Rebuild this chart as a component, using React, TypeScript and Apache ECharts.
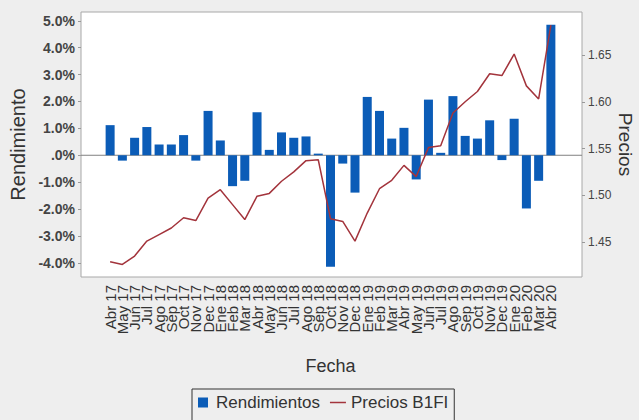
import { useEffect, useRef } from "react";
import * as echarts from "echarts";

const months = [
  "Abr 17", "May 17", "Jun 17", "Jul 17", "Ago 17", "Sep 17", "Oct 17", "Nov 17", "Dec 17",
  "Ene 18", "Feb 18", "Mar 18", "Abr 18", "May 18", "Jun 18", "Jul 18", "Ago 18", "Sep 18",
  "Oct 18", "Nov 18", "Dec 18", "Ene 19", "Feb 19", "Mar 19", "Abr 19", "May 19", "Jun 19",
  "Jul 19", "Ago 19", "Sep 19", "Oct 19", "Nov 19", "Dec 19", "Ene 20", "Feb 20", "Mar 20",
  "Abr 20",
];

// monthly return, %
const rendimientos = [
  1.12, -0.2, 0.65, 1.05, 0.4, 0.4, 0.75, -0.2, 1.65,
  0.55, -1.15, -0.95, 1.6, 0.2, 0.85, 0.65, 0.7, 0.06,
  -4.15, -0.31, -1.39, 2.17, 1.65, 0.62, 1.02, -0.9, 2.07,
  0.09, 2.2, 0.72, 0.62, 1.3, -0.18, 1.36, -1.98, -0.95,
  4.86,
];

// fund price
const precios = [
  1.429, 1.426, 1.435, 1.451, 1.458, 1.465, 1.476, 1.473, 1.497,
  1.506, 1.49, 1.474, 1.499, 1.502, 1.515, 1.525, 1.537, 1.538,
  1.475, 1.472, 1.451, 1.481, 1.507, 1.516, 1.532, 1.52, 1.551,
  1.553, 1.588, 1.6, 1.611, 1.63, 1.628, 1.651, 1.617, 1.603,
  1.682,
];

const leftTicks = { min: -4.53, max: 5.33 };
const rightTicks = { min: 1.4126, max: 1.696 };

const FONT = "'Liberation Sans', Arial, sans-serif";

export default function App() {
  const ref = useRef<HTMLDivElement>(null);

  useEffect(() => {
    if (!ref.current) return;
    const chart = echarts.init(ref.current, null, { renderer: "svg" });

    chart.setOption({
      animation: false,
      backgroundColor: "#eeeeee",
      grid: {
        left: 104,
        right: 82,
        top: 12,
        bottom: 143,
        containLabel: false,
        outerBoundsMode: "none",
      },
      legend: {
        left: 192,
        top: 389,
        padding: [5, 6, 14, 6],
        borderColor: "#333",
        borderWidth: 1,
        itemGap: 10,
        itemWidth: 16,
        itemHeight: 10,
        textStyle: { fontFamily: FONT, fontSize: 17, color: "#333" },
        data: [
          { name: "Rendimientos", icon: "path://M0 0H10V10H0Z" },
          { name: "Precios B1FI", icon: "path://M0 0H16V1.5H0Z" },
        ],
      },
      xAxis: {
        type: "category",
        data: months,
        name: "Fecha",
        nameLocation: "middle",
        nameGap: 80,
        nameTextStyle: { fontFamily: FONT, fontSize: 18, color: "#333" },
        axisLine: { show: false },
        axisTick: { show: false },
        axisLabel: {
          rotate: 90,
          interval: 0,
          margin: 8,
          fontFamily: FONT,
          fontSize: 15,
          color: "#333",
        },
      },
      yAxis: [
        {
          type: "value",
          min: leftTicks.min,
          max: leftTicks.max,
          splitNumber: 10,
          offset: 23,
          name: "Rendimiento",
          nameLocation: "middle",
          nameGap: 52,
          nameTextStyle: { fontFamily: FONT, fontSize: 20, color: "#333" },
          splitLine: { show: false },
          axisLine: { show: false },
          axisTick: { show: true, length: 3, lineStyle: { color: "#999" } },
          axisLabel: {
            showMinLabel: false,
            showMaxLabel: false,
            margin: 6,
            fontFamily: FONT,
            fontSize: 14,
            fontWeight: "bold",
            color: "#444",
            formatter: (v: number) => {
              if (Math.abs(v - Math.round(v)) > 1e-6) return "";
              return Math.round(v) === 0 ? ".0%" : v.toFixed(1) + "%";
            },
          },
        },
        {
          type: "value",
          min: rightTicks.min,
          max: rightTicks.max,
          splitNumber: 6,
          offset: 25,
          name: "Precios",
          nameLocation: "middle",
          nameRotate: -90,
          nameGap: 34,
          nameMoveOverlap: false,
          nameTextStyle: { fontFamily: FONT, fontSize: 19, color: "#333" },
          splitLine: { show: false },
          axisLine: { show: false },
          axisTick: { show: true, length: 3, lineStyle: { color: "#999" } },
          axisLabel: {
            showMinLabel: false,
            showMaxLabel: false,
            margin: 6,
            fontFamily: FONT,
            fontSize: 12,
            color: "#444",
            formatter: (v: number) => {
              const k = v / 0.05;
              if (Math.abs(k - Math.round(k)) > 1e-6) return "";
              return v.toFixed(2);
            },
          },
        },
      ],
      series: [
        {
          name: "Rendimientos",
          type: "bar",
          yAxisIndex: 0,
          barWidth: 9,
          itemStyle: { color: "#0b5cb7" },
          data: rendimientos,
        },
        {
          name: "Precios B1FI",
          type: "line",
          yAxisIndex: 1,
          symbol: "none",
          lineStyle: { color: "#a3343c", width: 1.5 },
          itemStyle: { color: "#a3343c" },
          data: precios,
        },
      ],
    });

    // plot frame and zero line span the whole box, wider than the category band
    const y0 = chart.convertToPixel({ yAxisIndex: 0 }, 0) as number;
    chart.setOption({
      graphic: [
        {
          type: "rect",
          z: -10,
          shape: { x: 81, y: 12, width: 501, height: 265 },
          style: { fill: "#ffffff", stroke: "#a8a8a8", lineWidth: 1 },
        },
        {
          type: "line",
          z: -5,
          shape: { x1: 81, y1: y0, x2: 582, y2: y0 },
          style: { stroke: "#808080", lineWidth: 1 },
        },
      ],
    });

    return () => chart.dispose();
  }, []);

  return (
    <div
      ref={ref}
      style={{ position: "fixed", left: 0, top: 0, width: 639, height: 420 }}
    />
  );
}
